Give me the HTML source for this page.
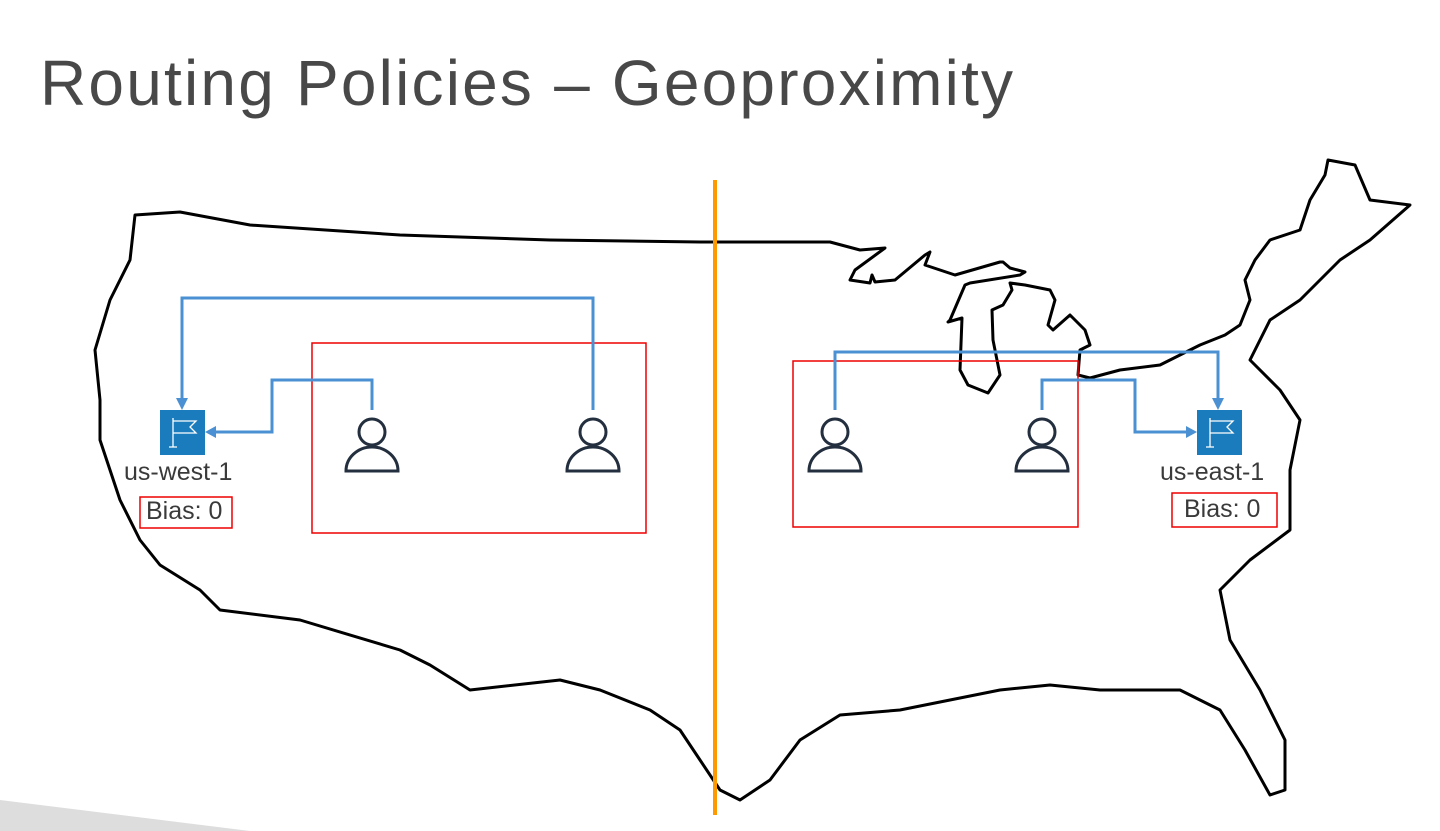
<!DOCTYPE html>
<html><head><style>
body{margin:0;width:1440px;height:831px;background:#fff;position:relative;overflow:hidden;font-family:"Liberation Sans",sans-serif}
.t{position:absolute;left:40px;top:46px;font-size:64px;color:#484848;letter-spacing:2.2px}
.lbl{position:absolute;font-size:25px;color:#3a3a3a}
</style></head><body>
<svg width="1440" height="831" style="position:absolute;left:0;top:0">
<polygon points="0,800 250,831 0,831" fill="#ddd"/>
<path fill="none" stroke="#000" stroke-width="3" stroke-linejoin="round" d="M135,215 L180,212 L250,225 L400,235 L550,240 L700,242 L830,242 L860,250 L885,248 L855,270 L850,280 L870,283 L872,275 L875,282 L895,280 L925,255 L930,252 L925,265 L940,270 L955,275 L1000,262 L1003,262 L1010,268 L1025,272 L1020,275 L970,283 L965,285 L950,320 L948,322 L962,318 L960,370 L968,385 L988,393 L1000,375 L993,340 L992,310 L1003,305 L1012,290 L1010,283 L1025,285 L1050,290 L1055,300 L1048,325 L1053,330 L1070,315 L1085,330 L1090,345 L1080,350 L1078,375 L1090,378 L1120,370 L1160,365 L1200,345 L1225,335 L1240,325 L1250,300 L1245,280 L1255,260 L1270,240 L1300,230 L1310,200 L1325,175 L1328,160 L1355,165 L1370,200 L1410,205 L1370,240 L1340,260 L1300,300 L1270,320 L1250,360 L1280,390 L1300,420 L1290,470 L1290,530 L1250,560 L1220,590 L1230,640 L1260,690 L1285,740 L1285,790 L1270,795 L1245,750 L1220,710 L1180,690 L1100,690 L1050,685 L1000,690 L950,700 L900,710 L840,715 L800,740 L770,780 L740,800 L720,790 L700,760 L680,730 L650,710 L600,690 L560,680 L470,690 L430,665 L400,650 L300,620 L220,610 L200,590 L160,565 L140,540 L120,500 L100,440 L100,400 L95,350 L110,300 L130,260 Z"/>
<line x1="715" y1="180" x2="715" y2="815" stroke="#f90" stroke-width="4"/>
<rect x="312" y="343" width="334" height="190" fill="none" stroke="#e00" stroke-width="1.5"/>
<rect x="793" y="361" width="285" height="166" fill="none" stroke="#e00" stroke-width="1.5"/>
<rect x="140" y="497" width="92" height="31" fill="none" stroke="#e00" stroke-width="1.5"/>
<rect x="1172" y="493" width="105" height="34" fill="none" stroke="#e00" stroke-width="1.5"/>
<g fill="none" stroke="#4a90d2" stroke-width="3">
<polyline points="593,410 593,298 182,298 182,400"/>
<polyline points="372,410 372,380 272,380 272,432 214,432"/>
<polyline points="835,410 835,352 1218,352 1218,400"/>
<polyline points="1042,410 1042,380 1135,380 1135,432 1188,432"/>
</g>
<g fill="#4a90d2">
<polygon points="176,398 188,398 182,410"/><polygon points="216,426 216,438 205,432"/>
<polygon points="1212,398 1224,398 1218,410"/><polygon points="1186,426 1186,438 1197,432"/>
</g>
<g>
<rect x="160" y="410" width="45" height="45" fill="#1a7bbd"/>
<rect x="1197" y="410" width="45" height="45" fill="#1a7bbd"/>
<g stroke="#fff" stroke-width="1.3" fill="none">
<path d="M173,418 V447 M169,447 H177 M173,421 H196 L190,427 L196,433 H173"/>
<path d="M1210,418 V447 M1206,447 H1214 M1210,421 H1233 L1227,427 L1233,433 H1210"/>
</g></g>
<g fill="none" stroke="#232f3e" stroke-width="3">
<circle cx="372" cy="432" r="13"/><path d="M346,471 A26,24 0 0 1 398,471 Z"/>
<circle cx="593" cy="432" r="13"/><path d="M567,471 A26,24 0 0 1 619,471 Z"/>
<circle cx="835" cy="432" r="13"/><path d="M809,471 A26,24 0 0 1 861,471 Z"/>
<circle cx="1042" cy="432" r="13"/><path d="M1016,471 A26,24 0 0 1 1068,471 Z"/>
</g>
</svg>
<div class="t">Routing Policies – Geoproximity</div>
<div class="lbl" style="left:124px;top:458px">us-west-1</div>
<div class="lbl" style="left:146px;top:497px">Bias: 0</div>
<div class="lbl" style="left:1160px;top:458px">us-east-1</div>
<div class="lbl" style="left:1184px;top:495px">Bias: 0</div>
</body></html>
